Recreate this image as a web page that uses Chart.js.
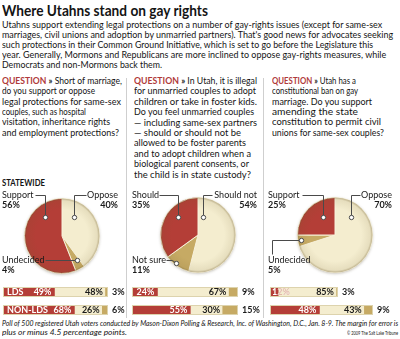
<!DOCTYPE html>
<html>
<head>
<meta charset="utf-8">
<script src="https://cdn.jsdelivr.net/npm/chart.js@4.4.1/dist/chart.umd.min.js"></script>
<style>
  body { margin: 0; background: #fff; }
  #page { position: relative; width: 400px; height: 339px; overflow: hidden; font-family: Lato, 'Liberation Sans', sans-serif; color: #141414; }
  .ln { position: absolute; white-space: nowrap; transform-origin: left center; }
  .title { font-size: 14.8px; font-weight: bold; }
  .body { font-size: 9.7px; }
  .q { color: #b03a3a; font-weight: bold; }
  .b { font-weight: bold; }
  .note { font-size: 7px; font-style: italic; }
  .copy { font-size: 6px; }
  .sep { position: absolute; width: 1px; background: #cfcfcf; top: 78px; height: 240px; }
  canvas { position: absolute; }
</style>
</head>
<body>
<div id="page">
  <div class="sep" style="left:126px"></div>
  <div class="sep" style="left:263px"></div>
</div>
<script>
const RED = '#b43e37', CREAM = '#f4edcf', TAN = '#c6aa64', INK = '#1a1a1a';

// answers are kept in the order: yes / no / unsure
const answers = [
  ['Support', 'Oppose', 'Undecided'],
  ['Should', 'Should not', 'Not sure'],
  ['Support', 'Oppose', 'Undecided']
];
const statewide = [[56, 40, 4], [35, 54, 11], [25, 70, 5]];
const groups = ['LDS', 'NON-LDS'];
const ldsValues = [[49, 48, 3], [24, 67, 9], [12, 85, 3]];
const nonLdsValues = [[68, 26, 6], [55, 30, 15], [48, 43, 9]];

const page = document.getElementById('page');

function addLine(html, cls, left, cy, right, lh) {
  const el = document.createElement('div');
  el.className = 'ln ' + cls;
  el.innerHTML = html;
  el.style.left = left + 'px';
  el.style.top = (cy - lh / 2) + 'px';
  el.style.lineHeight = lh + 'px';
  if (right) el.dataset.r = right;
  page.appendChild(el);
  return el;
}

function addBlock(lines, left, top, step) {
  lines.forEach(([text, right], i) => addLine(text, 'body', left, top + i * step, right, 10));
}

addLine('Where Utahns stand on gay rights', 'title', 2, 9.5, 208, 16);

addBlock([
  ['Utahns support extending legal protections on a number of gay-rights issues (except for same-sex', 382],
  ['marriages, civil unions and adoption by unmarried partners). That\'s good news for advocates seeking', 393],
  ['such protections in their Common Ground Initiative, which is set to go before the Legislature this', 373],
  ['year. Generally, Mormons and Republicans are more inclined to oppose gay-rights measures, while', 386],
  ['Democrats and non-Mormons back them.', 162]
], 2, 24, 10);

const Q = '<span class="q">QUESTION</span> <b>»</b> ';
addBlock([
  [Q + 'Short of marriage,', 122],
  ['do you support or oppose', 95],
  ['legal protections for same-sex', 121],
  ['couples, such as hospital', 86],
  ['visitation, inheritance rights', 110],
  ['and employment protections?', 119]
], 2, 80, 10.35);

addBlock([
  [Q + 'In Utah, it is illegal', 257],
  ['for unmarried couples to adopt', 256],
  ['children or take in foster kids.', 257],
  ['Do you feel unmarried couples', 254],
  ['— including same-sex partners', 257],
  ['— should or should not be', 241],
  ['allowed to be foster parents', 246],
  ['and to adopt children when a', 251],
  ['biological parent consents, or', 249],
  ['the child is in state custody?', 251]
], 134, 80, 10.4);

addBlock([
  [Q + 'Utah has a', 356],
  ['constitutional ban on gay', 358],
  ['marriage. Do you support', 372],
  ['amending the state', 358],
  ['constitution to permit civil', 381],
  ['unions for same-sex couples?', 384]
], 272, 80, 10.35);

addLine('STATEWIDE', 'body b', 2, 182, 45, 10);

addLine('Poll of 500 registered Utah voters conducted by Mason-Dixon Polling &amp; Research, Inc. of Washington, D.C., Jan. 8-9. The margin for error is', 'note', 2, 323.5, 398, 9);
addLine('plus or minus 4.5 percentage points.', 'note', 2, 332.5, 127, 9);
addLine('© 2009 The Salt Lake Tribune', 'copy', 347, 333, 398, 8);

function fitLines() {
  page.querySelectorAll('[data-r]').forEach(el => {
    el.style.transform = '';
    const w = el.getBoundingClientRect().width;
    const target = el.dataset.r - parseFloat(el.style.left);
    el.style.transform = `scaleX(${(target / w).toFixed(3)})`;
  });
}
fitLines();

function makeCanvas(left, top, w, h) {
  const c = document.createElement('canvas');
  c.width = w;
  c.height = h;
  c.style.left = left + 'px';
  c.style.top = top + 'px';
  c.style.width = w + 'px';
  c.style.height = h + 'px';
  page.appendChild(c);
  return c;
}

Chart.defaults.font.family = 'Lato';

// ---------- pies ----------
const pieBoxes = [
  { left: 0, width: 126, padding: { left: 24, right: 26, top: 13, bottom: 3 } },
  { left: 128, width: 134, padding: { left: 32, right: 26, top: 12, bottom: 4 } },
  { left: 264, width: 136, padding: { left: 33, right: 27, top: 12, bottom: 4 } }
];

// label anchor and leader line, in canvas pixels (yes / no / unsure)
const calloutSpecs = [
  [
    { align: 'left', x: 2, y: 10, path: [[35, 10], [45, 10], [45, 32]] },
    { align: 'right', x: 118, y: 10, path: [[86, 10], [74, 10], [74, 32]] },
    { align: 'left', x: 2, y: 75, path: [[45, 75], [77, 75]] }
  ],
  [
    { align: 'left', x: 4, y: 10, path: [[31, 10], [50, 10], [50, 32]] },
    { align: 'right', x: 129, y: 10, path: [[84, 10], [75, 10], [75, 32]] },
    { align: 'left', x: 4, y: 75, path: [[38, 75], [44, 75], [48, 78]] }
  ],
  [
    { align: 'left', x: 4, y: 10, path: [[38, 10], [59, 10], [59, 32]] },
    { align: 'right', x: 128, y: 10, path: [[96, 10], [87, 10], [87, 32]] },
    { align: 'left', x: 4, y: 75, path: [[8, 69], [8, 55], [37, 55]] }
  ]
];

const pieShade = {
  id: 'pieShade',
  beforeDatasetsDraw(chart) {
    const { x, y, outerRadius: r } = chart.getDatasetMeta(0).data[0];
    const ctx = chart.ctx;
    ctx.save();
    ctx.shadowColor = 'rgba(60,50,20,0.35)';
    ctx.shadowBlur = 3;
    ctx.shadowOffsetY = 1;
    ctx.fillStyle = CREAM;
    ctx.beginPath();
    ctx.arc(x, y, r, 0, Math.PI * 2);
    ctx.fill();
    ctx.restore();
  },
  afterDatasetsDraw(chart) {
    const { x, y, outerRadius: r } = chart.getDatasetMeta(0).data[0];
    const ctx = chart.ctx;
    const g = ctx.createRadialGradient(x, y, r * 0.7, x, y, r);
    g.addColorStop(0, 'rgba(110,90,40,0)');
    g.addColorStop(0.8, 'rgba(110,90,40,0.1)');
    g.addColorStop(1, 'rgba(110,90,40,0.42)');
    ctx.save();
    ctx.fillStyle = g;
    ctx.beginPath();
    ctx.arc(x, y, r, 0, Math.PI * 2);
    ctx.fill();
    ctx.restore();
  }
};

function makeCallouts(p) {
  return {
    id: 'callouts',
    afterDraw(chart) {
      const ctx = chart.ctx;
      ctx.save();
      ctx.textBaseline = 'middle';
      calloutSpecs[p].forEach((c, i) => {
        ctx.textAlign = c.align;
        ctx.fillStyle = INK;
        ctx.font = '9px Lato';
        ctx.fillText(answers[p][i], c.x, c.y);
        ctx.font = 'bold 9px Lato';
        ctx.fillText(statewide[p][i] + '%', c.x, c.y + 10);

        ctx.strokeStyle = '#4a4a4a';
        ctx.lineWidth = 1;
        ctx.beginPath();
        c.path.forEach(([px, py], k) => k ? ctx.lineTo(px + 0.5, py + 0.5) : ctx.moveTo(px + 0.5, py + 0.5));
        ctx.stroke();
        const [dx, dy] = c.path[c.path.length - 1];
        ctx.beginPath();
        ctx.arc(dx + 0.5, dy + 0.5, 2.2, 0, Math.PI * 2);
        ctx.fillStyle = '#fff';
        ctx.fill();
        ctx.stroke();
      });
      ctx.restore();
    }
  };
}

function createPie(p) {
  const box = pieBoxes[p];
  const vals = statewide[p];
  // clockwise from 12 o'clock: no, unsure, yes
  new Chart(makeCanvas(box.left, 185, box.width, 92), {
    type: 'pie',
    data: {
      labels: [answers[p][1], answers[p][2], answers[p][0]],
      datasets: [{
        data: [vals[1], vals[2], vals[0]],
        backgroundColor: [CREAM, TAN, RED],
        borderColor: '#f7f1da',
        borderWidth: 1
      }]
    },
    options: {
      responsive: false,
      animation: false,
      layout: { padding: box.padding },
      plugins: { legend: { display: false }, tooltip: { enabled: false } }
    },
    plugins: [pieShade, makeCallouts(p)]
  });
}

// ---------- LDS / NON-LDS bars ----------
const barBoxes = [
  { left: 3, widths: [105, 105] },
  { left: 132, widths: [106, 106] },
  { left: 270, widths: [68, 103] }
];
const rowTops = [287, 305];

function makeBarText(group) {
  return {
    id: 'barText',
    afterDatasetsDraw(chart) {
      const ctx = chart.ctx;
      const vals = chart.data.datasets.map(d => d.data[0]);
      const bars = vals.map((v, i) => chart.getDatasetMeta(i).data[0]);
      const red = bars[0];
      const y = red.y + 0.5;
      ctx.save();
      // thin outline round the whole bar
      ctx.strokeStyle = '#ddd3ad';
      ctx.lineWidth = 1;
      ctx.strokeRect(red.base + 0.5, red.y - red.height / 2 + 0.5, bars[2].x - red.base - 1, red.height - 1);
      ctx.font = 'bold 9px Lato';
      ctx.textBaseline = 'middle';
      ctx.fillStyle = '#fff';
      if (group) {
        ctx.textAlign = 'left';
        ctx.fillText(group, red.base + 4, y);
      }
      const redText = vals[0] + '%';
      const tw = ctx.measureText(redText).width;
      if (red.x - red.base > tw + 6) {
        ctx.textAlign = 'right';
        ctx.fillText(redText, red.x - 3, y);
      } else {
        // label does not fit the red part: spill over into the cream part
        ctx.textAlign = 'left';
        ctx.fillText(redText, red.base + 2, y);
        ctx.save();
        ctx.beginPath();
        ctx.rect(red.x, 0, chart.width, chart.height);
        ctx.clip();
        ctx.fillStyle = '#e2b7a8';
        ctx.fillText(redText, red.base + 2, y);
        ctx.restore();
      }
      ctx.fillStyle = INK;
      ctx.textAlign = 'right';
      ctx.fillText(vals[1] + '%', bars[1].x - 2, y);
      ctx.textAlign = 'left';
      ctx.fillText(vals[2] + '%', bars[2].x + 4, y);
      ctx.restore();
    }
  };
}

function createBar(p, r) {
  const values = r ? nonLdsValues[p] : ldsValues[p];
  const bw = barBoxes[p].widths[r];
  new Chart(makeCanvas(barBoxes[p].left, rowTops[r], bw + 24, 10), {
    type: 'bar',
    data: {
      labels: [groups[r]],
      datasets: values.map((v, i) => ({
        data: [v],
        backgroundColor: [RED, CREAM, TAN][i],
        borderWidth: 0,
        barPercentage: 1,
        categoryPercentage: 1
      }))
    },
    options: {
      indexAxis: 'y',
      responsive: false,
      animation: false,
      layout: { padding: { right: 24 } },
      scales: {
        x: { stacked: true, min: 0, max: 100, display: false },
        y: { stacked: true, display: false }
      },
      plugins: { legend: { display: false }, tooltip: { enabled: false } }
    },
    plugins: [makeBarText(p === 0 ? groups[r] : null)]
  });
}

[0, 1, 2].forEach(p => {
  createPie(p);
  createBar(p, 0);
  createBar(p, 1);
});
</script>
</body>
</html>
